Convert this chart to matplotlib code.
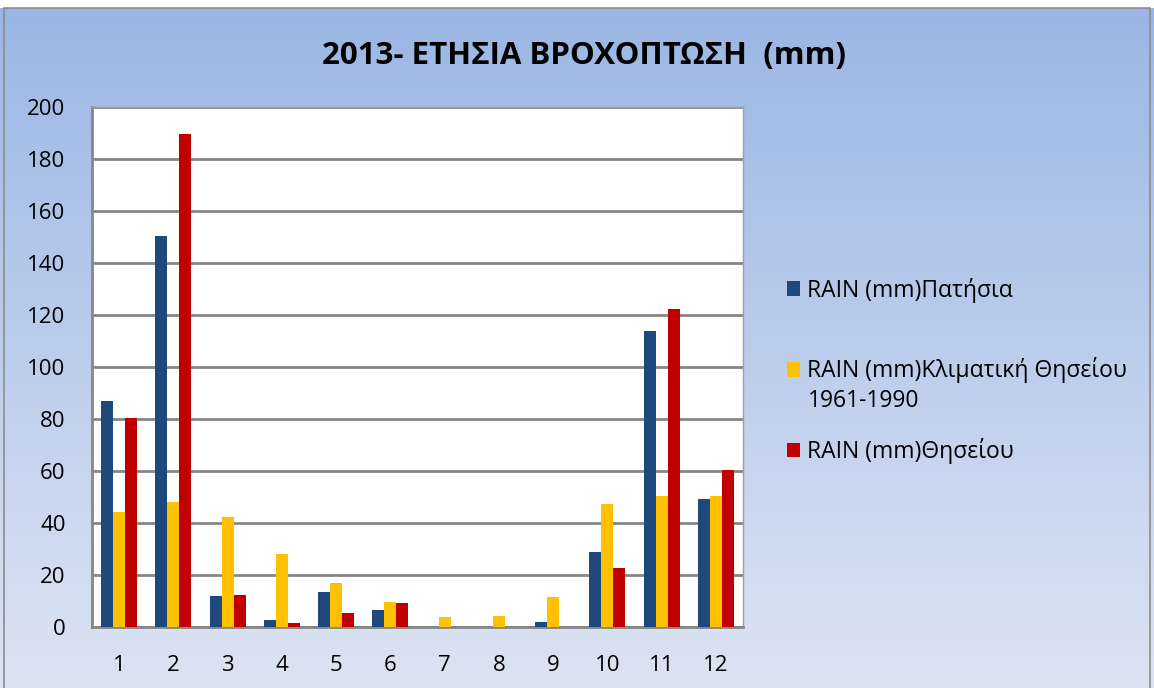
import numpy as np
import matplotlib
matplotlib.use("Agg")
import matplotlib.pyplot as plt
from matplotlib.patches import Rectangle

plt.rcParams['font.family'] = ['Open Sans', 'DejaVu Sans']

months = [str(m) for m in range(1, 13)]
patisia = [87, 150.3, 12.1, 2.8, 13.6, 6.6, 0, 0, 1.8, 29.0, 113.7, 49.4]
klimatiki = [44.4, 48.1, 42.4, 28.1, 17.0, 9.5, 4.0, 4.4, 11.7, 47.4, 50.4, 50.4]
thiseiou = [80.3, 189.6, 12.4, 1.7, 5.4, 9.1, 0, 0, 0, 22.7, 122.2, 60.5]

labels = ["RAIN (mm)Πατήσια",
          "RAIN (mm)Κλιματική Θησείου",
          "RAIN (mm)Θησείου"]
label2_cont = "1961-1990"
colors = ["#1F497D", "#FFC000", "#C00000"]

W, H = 1154, 688
fig = plt.figure(figsize=(W / 100, H / 100), dpi=100)

# background gradient
bg = fig.add_axes([0, 0, 1, 1], zorder=-5)
top = np.array([155, 182, 228]) / 255.0
bot = np.array([220, 228, 243]) / 255.0
t = np.linspace(0, 1, 256)[:, None]
grad = (top[None, :] * (1 - t) + bot[None, :] * t)[:, None, :]
bg.imshow(grad, aspect='auto', extent=[0, 1, 0, 680 / H], origin='upper')
bg.set_xlim(0, 1)
bg.set_ylim(0, 1)
bg.add_patch(Rectangle((4 / W, -0.01), 1146 / W, 680 / H + 0.01, fill=False,
                       edgecolor="#8c8c8c", lw=1.2))
bg.axis('off')

ax = fig.add_axes([92 / W, (H - 627) / H, 651 / W, 520 / H])
x = np.arange(len(months))
bw = 0.222
for i, (vals, c, lab) in enumerate(zip([patisia, klimatiki, thiseiou], colors, labels)):
    ax.bar(x + (i - 1) * bw, vals, bw, color=c, label=lab, zorder=3)

ax.set_xlim(-0.5, len(months) - 0.5)
ax.set_ylim(0, 200)
ax.set_yticks(range(0, 201, 20))
ax.set_xticks(x)
ax.set_xticklabels(months)
ax.tick_params(axis='both', length=0, labelsize=16, colors='#000000')
ax.tick_params(axis='y', pad=19)
ax.tick_params(axis='x', pad=20)
ax.grid(axis='y', color='#868686', lw=2, zorder=1)
ax.set_axisbelow(True)
for s in ['top', 'right']:
    ax.spines[s].set_color('#a0a0a0')
    ax.spines[s].set_linewidth(1)
for s in ['left', 'bottom']:
    ax.spines[s].set_color('#868686')
    ax.spines[s].set_linewidth(2)

fig.text(584 / W, 1 - 56 / H, "2013- ΕΤΗΣΙΑ ΒΡΟΧΟΠΤΩΣΗ  (mm)", ha='center', va='center',
         fontsize=22.5, fontweight='bold')

leg = fig.legend(loc='upper left', bbox_to_anchor=(766 / W, 1 - 257 / H), frameon=False,
                 fontsize=16.5, handlelength=0.6, handleheight=0.6, handletextpad=0.3,
                 labelspacing=2.39)
fig.text(808 / W, 1 - 401 / H, label2_cont, ha='left', va='center', fontsize=16.5)

fig.savefig("out.png", dpi=100)
